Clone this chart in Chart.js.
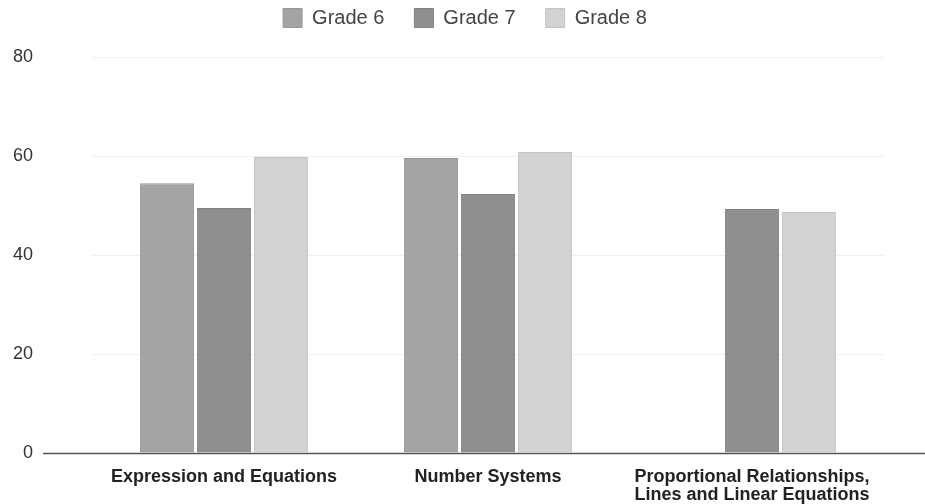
<!DOCTYPE html>
<html>
<head>
<meta charset="utf-8">
<script src="https://cdn.jsdelivr.net/npm/chart.js@4"></script>
<style>
  html, body { margin: 0; padding: 0; background: #ffffff; }
  #wrap { width: 925px; height: 504px; position: relative; }
</style>
</head>
<body>
<div id="wrap"><canvas id="chart" width="925" height="504"></canvas></div>
<script>
// Topic areas on the x axis
const categories = [
  'Expression and Equations',
  'Number Systems',
  ['Proportional Relationships,', 'Lines and Linear Equations']
];

// Scores per grade (Grade 6 has no result for the third topic)
const grade6 = [54.5, 59.6, null];
const grade7 = [49.5, 52.3, 49.3];
const grade8 = [59.8, 60.8, 48.7];

const seriesNames = ['Grade 6', 'Grade 7', 'Grade 8'];
const yTicks = [0, 20, 40, 60, 80];

const FONT = '"Liberation Sans", Arial, Helvetica, sans-serif';
const LEGEND_GAP = 30;

// Baseline at zero, running under the tick labels out to the right edge
const baselinePlugin = {
  id: 'baseline',
  afterDatasetsDraw(chart) {
    const y = Math.round(chart.scales.y.getPixelForValue(0)) + 0.5;
    const ctx = chart.ctx;
    ctx.save();
    ctx.strokeStyle = '#555555';
    ctx.lineWidth = 1.5;
    ctx.beginPath();
    ctx.moveTo(43, y);
    ctx.lineTo(chart.width, y);
    ctx.stroke();
    ctx.restore();
  }
};

// Fixed band at the top for the legend; the legend row sits near the top edge
const legendBandPlugin = {
  id: 'legendBand',
  beforeInit(chart) {
    const origFit = chart.legend.fit;
    chart.legend.fit = function () {
      origFit.bind(chart.legend)();
      this.height = 57;
    };
  },
  afterLayout(chart) {
    const lg = chart.legend;
    const dy = (8 - LEGEND_GAP) - lg.top;
    const dx = 23;
    lg.top += dy;
    lg.left += dx; lg.right += dx;
    if (lg.legendHitBoxes) lg.legendHitBoxes.forEach(b => { b.top += dy; b.left += dx; });
  }
};

new Chart(document.getElementById('chart'), {
  type: 'bar',
  data: {
    labels: categories,
    datasets: [
      { label: seriesNames[0], data: grade6, backgroundColor: '#a4a4a4', borderColor: '#979797', borderWidth: 1 },
      { label: seriesNames[1], data: grade7, backgroundColor: '#8f8f8f', borderColor: '#818181', borderWidth: 1 },
      { label: seriesNames[2], data: grade8, backgroundColor: '#d2d2d2', borderColor: '#c4c4c4', borderWidth: 1 }
    ]
  },
  options: {
    responsive: false,
    animation: false,
    devicePixelRatio: 1,
    layout: { padding: { left: 0, right: 41, top: 0, bottom: 0 } },
    datasets: {
      bar: { categoryPercentage: 0.648, barPercentage: 0.95 }
    },
    plugins: {
      legend: {
        position: 'top',
        labels: {
          boxWidth: 19,
          boxHeight: 19,
          padding: LEGEND_GAP,
          color: '#444444',
          font: { family: FONT, size: 20 }
        }
      },
      tooltip: { enabled: false }
    },
    scales: {
      x: {
        grid: { display: false, drawTicks: false },
        border: { display: false },
        afterFit(scale) { scale.height = 51; },
        ticks: {
          color: '#222222',
          padding: 15,
          maxRotation: 0,
          autoSkip: false,
          font: { family: FONT, size: 18, weight: 'bold', lineHeight: 1.0 }
        }
      },
      y: {
        min: 0,
        max: 80,
        afterBuildTicks(scale) {
          scale.ticks = yTicks.map(v => ({ value: v }));
        },
        afterFit(scale) { scale.width = 92; },
        border: { display: false },
        grid: {
          drawTicks: true,
          tickLength: 57,
          tickColor: 'rgba(0,0,0,0)',
          color: ctx => (ctx.tick && ctx.tick.value === 0) ? 'rgba(0,0,0,0)' : '#f0f0f0',
          lineWidth: 1,
          borderDash: [3, 7]
        },
        ticks: {
          color: '#333333',
          padding: 2,
          font: { family: FONT, size: 18 }
        }
      }
    }
  },
  plugins: [baselinePlugin, legendBandPlugin]
});
</script>
</body>
</html>
